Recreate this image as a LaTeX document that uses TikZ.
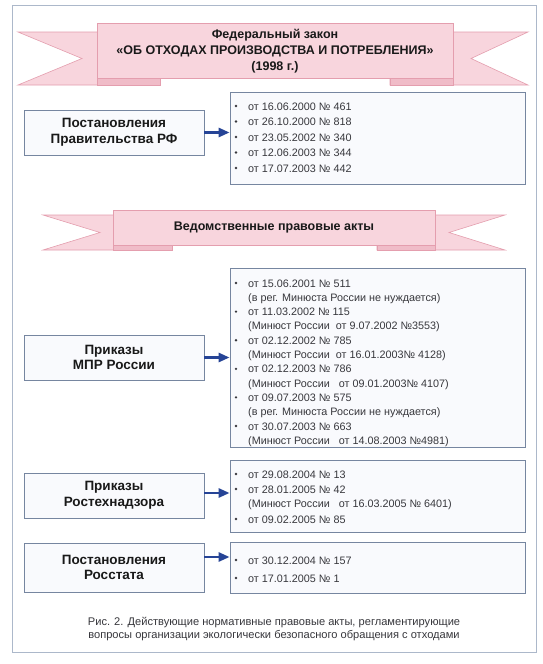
\documentclass[tikz,border=0pt]{standalone}
\usepackage{fontspec}
\setmainfont{Liberation Sans}
\usetikzlibrary{arrows.meta}
\definecolor{frameC}{RGB}{172,184,202}
\definecolor{boxC}{RGB}{118,134,160}
\definecolor{boxF}{RGB}{249,250,253}
\definecolor{arrC}{RGB}{38,68,150}
\definecolor{txtC}{RGB}{25,25,25}
\definecolor{itemC}{RGB}{55,55,60}
\definecolor{banF}{RGB}{248,213,221}
\definecolor{banL}{RGB}{228,158,174}
\definecolor{banD}{RGB}{240,188,200}
\begin{document}
\begin{tikzpicture}[x=1pt,y=-1pt,
  hbox/.style={draw=boxC, line width=0.8pt, fill=boxF, minimum width=180pt, minimum height=45pt, inner sep=0pt, align=center, font=\bfseries\fontsize{13.5}{15.5}\selectfont, text=txtC},
  lbox/.style={draw=boxC, line width=0.8pt, fill=boxF, minimum width=295pt, inner sep=0pt},
  itm/.style={anchor=base west, inner sep=0pt, font=\fontsize{10.8}{13}\selectfont, text=itemC},
  arr/.style={draw=arrC, line width=2.6pt, -{Triangle[length=11pt,width=9pt]}},
  tail/.style={fill=banF, draw=banL, line width=0.6pt, line join=miter},
  fold/.style={fill=banD, draw=banL, line width=0.6pt},
  panel/.style={fill=banF, draw=banL, line width=0.6pt},
  bantext/.style={align=center, inner sep=0pt, text=txtC, font=\bfseries\fontsize{12.5}{16}\selectfont}]
\useasboundingbox (0,0) rectangle (543,664);
\fill[white] (0,0) rectangle (543,664);
\draw[frameC, line width=0.8pt] (12,5) rectangle (536,652);

% banner 1
\draw[tail] (18,32) -- (160,32) -- (160,85) -- (18,85) -- (82,58.5) -- cycle;
\draw[tail] (528,32) -- (390,32) -- (390,85) -- (528,85) -- (471,58.5) -- cycle;
\draw[fold] (97,78) -- (160,78) -- (160,85) -- (97,85) -- cycle;
\draw[fold] (390,78) -- (453,78) -- (453,85) -- (390,85) -- cycle;
\node[panel, minimum width=356pt, minimum height=55pt, inner sep=0pt] (ban1) at (275,50.5) {};
\node[bantext] (ban1t) at (275,51) {Федеральный закон\\«ОБ ОТХОДАХ ПРОИЗВОДСТВА И ПОТРЕБЛЕНИЯ»\\(1998 г.)};

% banner 2
\draw[tail] (43,215) -- (172,215) -- (172,250) -- (43,250) -- (100,232.5) -- cycle;
\draw[tail] (505,215) -- (377,215) -- (377,250) -- (505,250) -- (449,232.5) -- cycle;
\draw[fold] (113,245) -- (172,245) -- (172,250) -- (113,250) -- cycle;
\draw[fold] (377,245) -- (435,245) -- (435,250) -- (377,250) -- cycle;
\node[panel, minimum width=322pt, minimum height=35pt, inner sep=0pt] (ban2) at (274,227.5) {};
\node[bantext] (ban2t) at (274,227) {Ведомственные правовые акты};

% left boxes
\node[hbox] (b1) at (114,132.5) {Постановления\\Правительства РФ};
\node[hbox] (b2) at (114,357.5) {Приказы\\МПР России};
\node[hbox] (b3) at (114,495.5) {Приказы\\Ростехнадзора};
\node[hbox, minimum height=49pt] (b4) at (114,567.5) {Постановления\\Росстата};

% list boxes
\node[lbox, minimum height=92pt] (l1) at (377.5,138) {};
\node[lbox, minimum height=179pt] (l2) at (377.5,357.5) {};
\node[lbox, minimum height=72pt] (l3) at (377.5,496) {};
\node[lbox, minimum height=51pt] (l4) at (377.5,567.5) {};

% arrows
\draw[arr] (b1.east) -- (b1.east -| l1.west);
\draw[arr] (b2.east) -- (b2.east -| l2.west);
\draw[arr] ([yshift=2.5pt]b3.east) -- ([yshift=2.5pt]b3.east -| l3.west);
\draw[arr] ([yshift=10.5pt]b4.east) -- ([yshift=10.5pt]b4.east -| l4.west);

% list 1
\foreach \yc/\bu/\ta [count=\i] in {
  106/1/{от 16.06.2000 № 461},
  121.5/1/{от 26.10.2000 № 818},
  137/1/{от 23.05.2002 № 340},
  152.5/1/{от 12.06.2003 № 344},
  168/1/{от 17.07.2003 № 442}}{
  \node[itm] (ia\i) at (248,\yc+4) {\ta};
  \ifnum\bu=1 \fill[itemC] (236,\yc) circle (1.3pt); \fi
}
% list 2
\foreach \yc/\bu/\ta [count=\i] in {
  283/1/{от 15.06.2001 № 511},
  297.3/0/{(в рег. Минюста России не нуждается)},
  311.6/1/{от 11.03.2002 № 115},
  325.9/0/{(Минюст России\hspace{3pt} от 9.07.2002 №3553)},
  340.2/1/{от 02.12.2002 № 785},
  354.5/0/{(Минюст России\hspace{3pt} от 16.01.2003№ 4128)},
  368.8/1/{от 02.12.2003 № 786},
  383.1/0/{(Минюст России\hspace{6pt} от 09.01.2003№ 4107)},
  397.4/1/{от 09.07.2003 № 575},
  411.7/0/{(в рег. Минюста России не нуждается)},
  426/1/{от 30.07.2003 № 663},
  440.3/0/{(Минюст России\hspace{6pt} от 14.08.2003 №4981)}}{
  \node[itm] (ib\i) at (248,\yc+4) {\ta};
  \ifnum\bu=1 \fill[itemC] (236,\yc) circle (1.3pt); \fi
}
% list 3
\foreach \yc/\bu/\ta [count=\i] in {
  474/1/{от 29.08.2004 № 13},
  489/1/{от 28.01.2005 № 42},
  503/0/{(Минюст России\hspace{6pt} от 16.03.2005 № 6401)},
  519/1/{от 09.02.2005 № 85}}{
  \node[itm] (ic\i) at (248,\yc+4) {\ta};
  \ifnum\bu=1 \fill[itemC] (236,\yc) circle (1.3pt); \fi
}
% list 4
\foreach \yc/\bu/\ta [count=\i] in {
  560/1/{от 30.12.2004 № 157},
  578/1/{от 17.01.2005 № 1}}{
  \node[itm] (id\i) at (248,\yc+4) {\ta};
  \ifnum\bu=1 \fill[itemC] (236,\yc) circle (1.3pt); \fi
}

% caption
\node[align=center, inner sep=0pt, text=itemC, font=\fontsize{11.1}{13}\selectfont] (cap) at (274,629.5)
  {Рис. 2. Действующие нормативные правовые акты, регламентирующие\\вопросы организации экологически безопасного обращения с отходами};
\end{tikzpicture}
\end{document}
